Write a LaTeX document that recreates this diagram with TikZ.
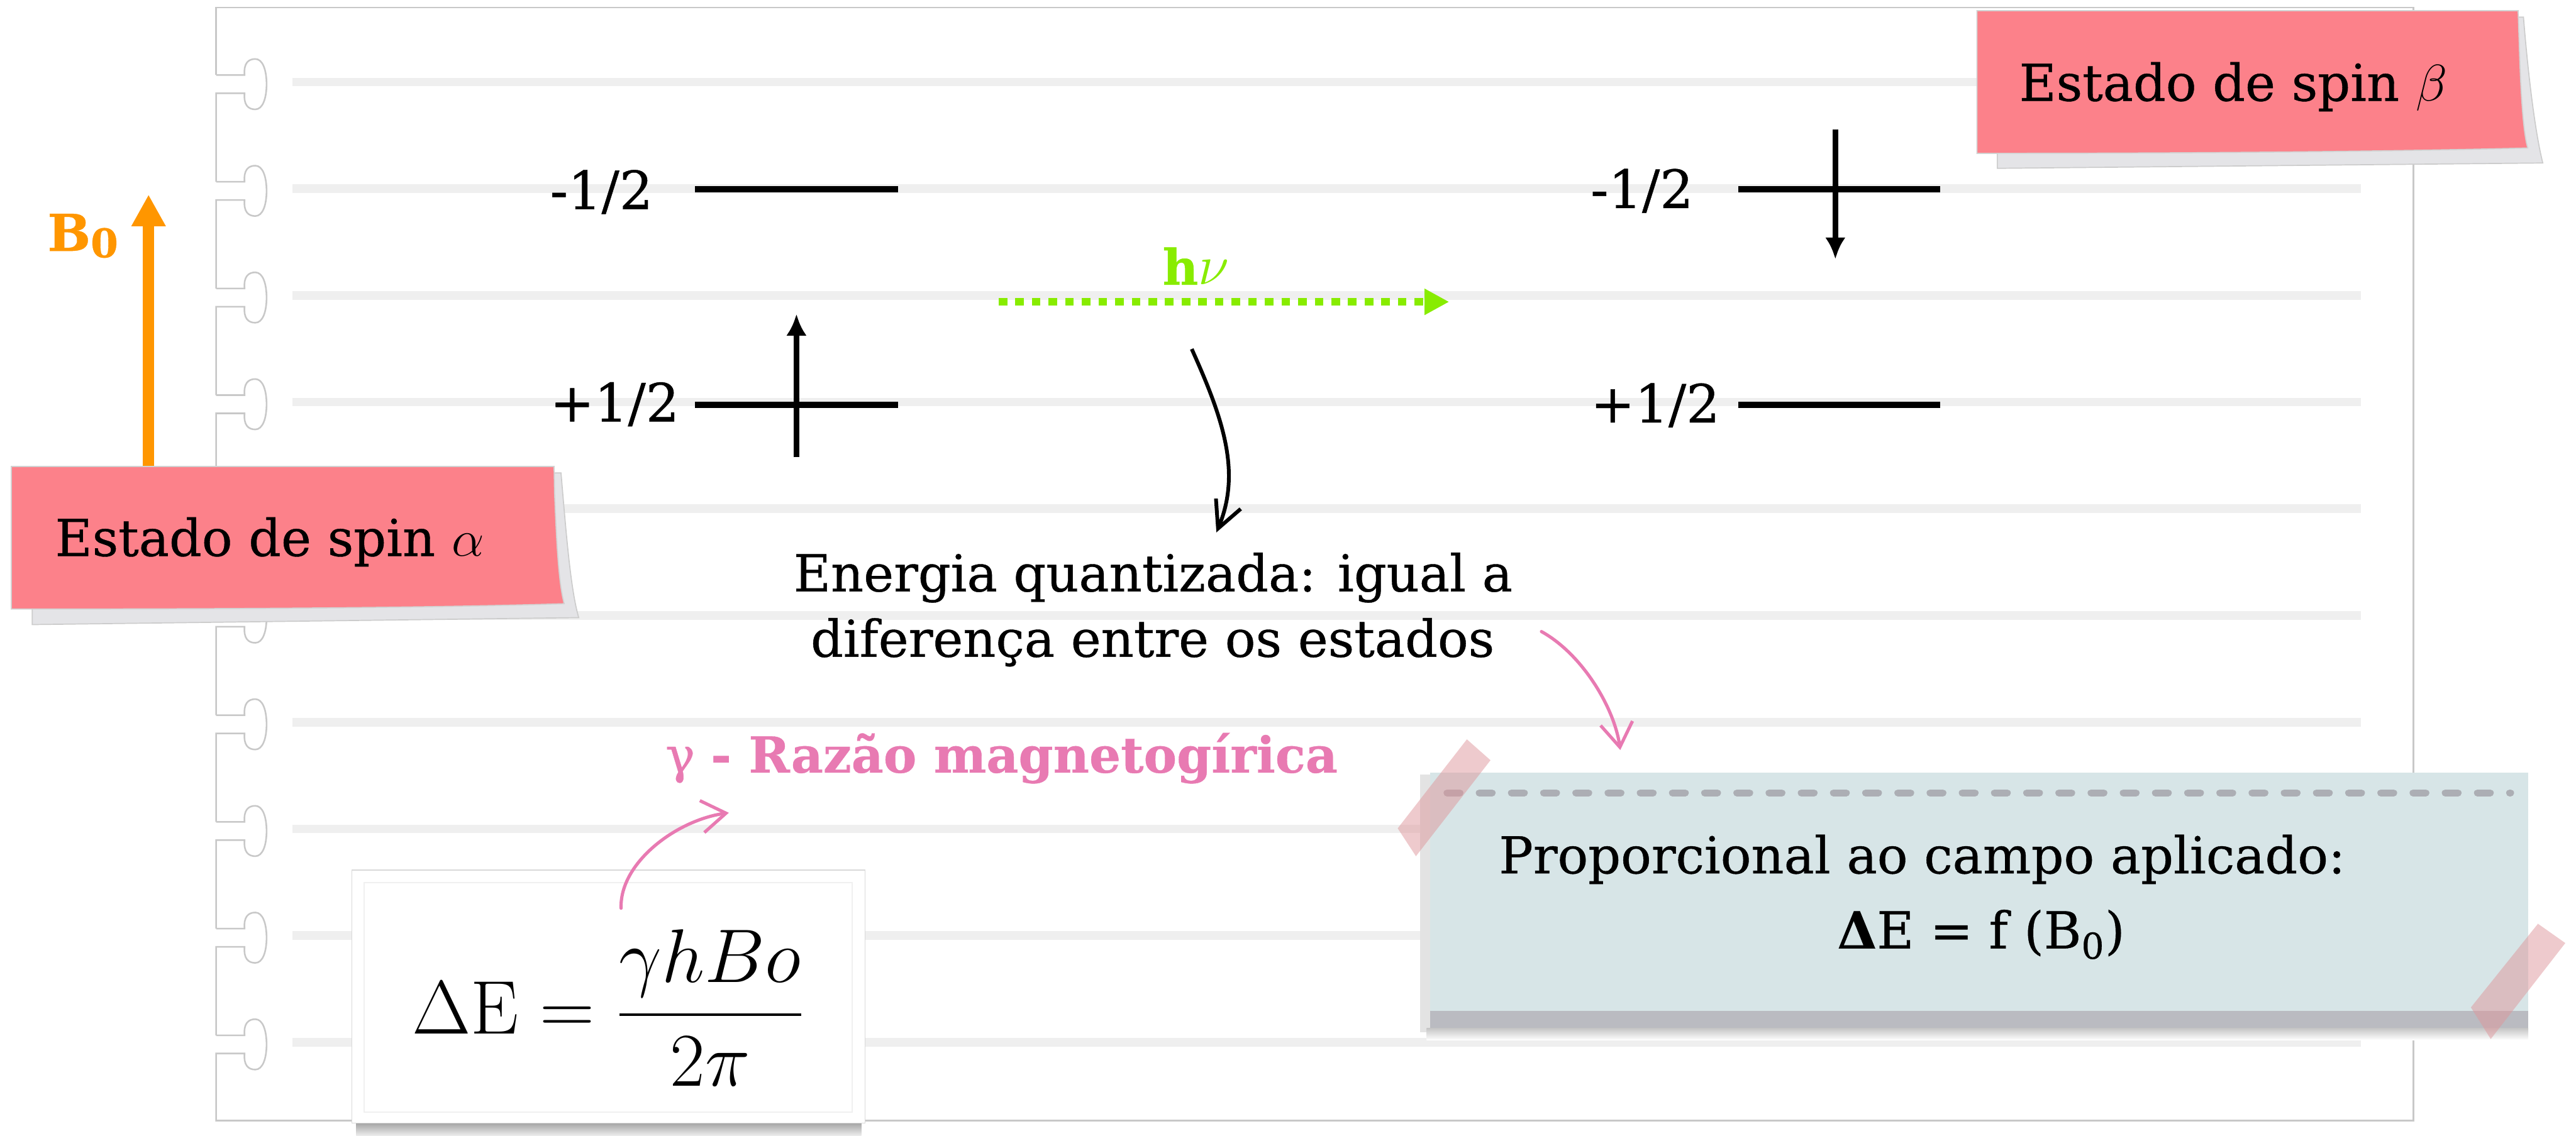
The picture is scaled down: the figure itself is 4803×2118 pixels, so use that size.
\documentclass[tikz,border=0pt]{standalone}
\usepackage[no-math]{fontspec}
\setmainfont{DejaVu Serif}[FakeBold=0.5]
\usepackage{amsmath}
\usepackage{graphicx}
\usetikzlibrary{arrows.meta}
\definecolor{notepink}{RGB}{252,129,138}
\definecolor{noteshadow}{RGB}{228,228,231}
\definecolor{rulegray}{RGB}{239,239,239}
\definecolor{edgegray}{RGB}{200,200,200}
\definecolor{borange}{RGB}{255,150,0}
\definecolor{hvgreen}{RGB}{136,236,0}
\definecolor{tpink}{RGB}{232,122,178}
\definecolor{noteblue}{RGB}{215,229,231}
\definecolor{bandgray}{RGB}{186,187,193}
\definecolor{dashgray}{RGB}{172,174,180}
\definecolor{tapepink}{RGB}{222,150,155}
\newcommand\myfs[1]{\fontsize{#1}{#1}\selectfont}
\newcommand\mymath[2]{\scalebox{#1}{\myfs{24.88}$#2$}}
\begin{document}
\begin{tikzpicture}[x=0.01cm,y=-0.01cm,
  paperedge/.style={draw=edgegray,line width=0.03cm},
  ruled/.style={draw=rulegray,line width=0.16cm},
  level/.style={line width=0.11cm,black},
  spinarrow/.style={line width=0.11cm,-{Latex[length=0.4cm,width=0.38cm]}},
  lbl/.style={inner sep=0,anchor=base west,font=\myfs{28}},
  txt/.style={inner sep=0,font=\myfs{27}},
  pinkarrow/.style={draw=tpink,line width=0.06cm,line cap=round,-{Straight Barb[length=0.45cm,width=0.6cm,line width=0.06cm]}},
  sticky/.style={fill=notepink,draw=gray!35,line width=0.02cm},
  stickyshadow/.style={fill=noteshadow,draw=gray!40,line width=0.02cm},
  tape/.style={fill=tapepink,opacity=0.5}]
\useasboundingbox (0,0) rectangle (4803,2118);
% paper
\draw[paperedge] (403,140) -- (403,14) -- (4500,14) -- (4500,2090) -- (403,2090);
\foreach \i in {0,...,9}{
  \draw[ruled] (545,{153+199*\i}) -- (4402,{153+199*\i});
}
\begin{scope}
\clip (380,0) rectangle (600,2091);
\foreach \Y in {153,352,551,750,949,1148,1347,1546,1745,1944}{
  \draw[paperedge] (403,{\Y-13}) -- (456,{\Y-13})
    .. controls (454,{\Y-35}) and (463,{\Y-43}) .. (476,{\Y-43})
    .. controls (490,{\Y-43}) and (497,{\Y-22}) .. (497,{\Y+4})
    .. controls (497,{\Y+30}) and (490,{\Y+51}) .. (476,{\Y+51})
    .. controls (463,{\Y+51}) and (454,{\Y+43}) .. (456,{\Y+21})
    -- (403,{\Y+21}) -- (403,{\Y+186});
}
\end{scope}
% formula box
\shade[top color=gray!70,bottom color=gray!15] (664,2095) rectangle (1606,2118);
\fill[white,draw=gray!30,line width=0.02cm] (656,1623) rectangle (1613,2095);
\draw[gray!12,line width=0.02cm] (679,1646) rectangle (1589,2074);
\node[anchor=base west,inner sep=0] (form) at (768,1928)
  {\mymath{1.62}{\displaystyle \Delta\mathrm{E} = \frac{\gamma h B o}{2\pi}}};
% blue note
\fill[gray!22] (2648,1445) rectangle (2666,1925);
\fill[noteblue] (2666,1441) rectangle (4714,1886);
\fill[bandgray] (2666,1886) rectangle (4714,1918);
\shade[top color=gray!45,bottom color=white] (2660,1918) rectangle (4714,1940);
\draw[dashgray,line width=0.13cm,line cap=round,dash pattern=on 0.24cm off 0.36cm] (2698,1479) -- (4681,1479);
\fill[tape] (2735,1379) -- (2779,1418) -- (2640,1597) -- (2606,1545) -- cycle;
\fill[tape] (4732,1723) -- (4783,1759) -- (4644,1938) -- (4607,1879) -- cycle;
\node[txt,anchor=base west] (prop) at (2794,1629) {Proporcional ao campo aplicado:};
\node[txt,anchor=base west] (dfb) at (3425,1769) {{\bfseries Δ}E = f (B\textsubscript{0})};
% B0 arrow
\coordinate (b0base) at (277,880);
\coordinate (b0tip) at (277,363);
\draw[borange,line width=0.21cm,-{Triangle[length=0.59cm,width=0.6cm]}] (b0base) -- (b0tip);
\node[anchor=base west,inner sep=0,text=borange,font=\myfs{27}\bfseries] (b0) at (88,468) {B\raisebox{-0.12cm}{\myfs{21}0}};
% sticky alpha
\path[stickyshadow] (60,1120) -- (1036,882) -- (1046,882) .. controls (1056,1000) and (1064,1100) .. (1079,1152) -- (60,1165) -- cycle;
\path[sticky] (21,870) -- (1033,870) -- (1034,920) .. controls (1038,1020) and (1042,1090) .. (1052,1126) .. controls (800,1134) and (400,1136) .. (21,1136) -- cycle;
\node[txt,anchor=base west] (alpha) at (102,1037) {Estado de spin \mymath{1.1}{\alpha}};
% sticky beta
\path[stickyshadow] (3724,270) -- (4697,32) -- (4705,32) .. controls (4712,120) and (4725,240) .. (4741,304) -- (3724,314) -- cycle;
\path[sticky] (3686,20) -- (4695,20) -- (4697,80) .. controls (4700,180) and (4705,250) .. (4713,276) .. controls (4400,284) and (4000,286) .. (3686,286) -- cycle;
\node[txt,anchor=base west] (beta) at (3764,188) {Estado de spin \mymath{1.1}{\beta}};
% levels
\node[lbl] (lm) at (1025,390) {-1/2};
\node[lbl] (lp) at (1025,786) {+1/2};
\node[lbl] (rm) at (2965,388) {-1/2};
\node[lbl] (rp) at (2965,788) {+1/2};
\draw[level] (1296,353) -- (1674,353);
\draw[level] (1296,755) -- (1674,755);
\draw[level] (3241,353) -- (3617,353);
\draw[level] (3241,755) -- (3617,755);
\coordinate (upa) at (1485,853);
\coordinate (upb) at (1485,586);
\coordinate (dna) at (3422,241);
\coordinate (dnb) at (3422,483);
\draw[spinarrow] (upa) -- (upb);
\draw[spinarrow] (dna) -- (dnb);
% h nu
\coordinate (hvs) at (1862,563);
\coordinate (hve) at (2702,563);
\draw[hvgreen,line width=0.14cm,dash pattern=on 0.16cm off 0.15cm,-{Triangle[length=0.46cm,width=0.46cm]}] (hvs) -- (hve);
\node[anchor=base west,inner sep=0,text=hvgreen] (hv) at (2167,531) {\myfs{26}\textbf{h}\mymath{1.2}{\nu}};
% energy text
\node[txt,anchor=base] (en1) at (2150,1103) {Energia quantizada: igual a};
\node[txt,anchor=base] (en2) at (2149,1225) {diferença entre os estados};
\coordinate (cs) at (2222,651);
\coordinate (ce) at (2268,993);
\draw[black,line width=0.07cm,-{Straight Barb[length=0.5cm,width=0.5cm,line width=0.07cm]}] (cs) .. controls (2280,780) and (2315,880) .. (ce);
% gamma
\node[inner sep=0,font=\myfs{26.3},anchor=base west,text=tpink] (gam) at (1240,1441) {γ \textbf{- Razão magnetogírica}};
\coordinate (p1s) at (2874,1178);
\coordinate (p1e) at (3021,1399);
\draw[pinkarrow] (p1s) .. controls (2950,1220) and (3010,1320) .. (p1e);
\coordinate (p2s) at (1158,1694);
\coordinate (p2e) at (1359,1516);
\draw[pinkarrow] (p2s) .. controls (1155,1610) and (1260,1530) .. (p2e);
\end{tikzpicture}
\end{document}
